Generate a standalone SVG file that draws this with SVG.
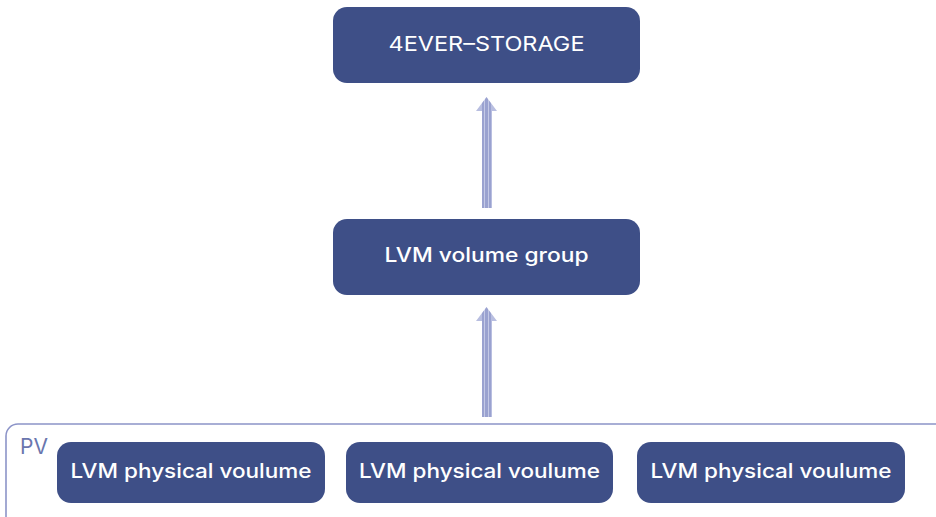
<svg xmlns="http://www.w3.org/2000/svg" width="936" height="517" viewBox="0 0 936 517">
<defs>
<style>
.box{fill:#3e4f87;}
.t{fill:#ffffff;font-family:Inter,"Liberation Sans",Arial,sans-serif;font-size:20px;font-weight:500;text-anchor:middle;}
.tr{font-weight:400;}
.pv{fill:#6a76ae;font-family:Inter,"Liberation Sans",Arial,sans-serif;font-size:21px;font-weight:400;}
</style>
<linearGradient id="stripe" x1="476" y1="0" x2="497" y2="0" gradientUnits="userSpaceOnUse">
<stop offset="0" stop-color="#b8bee0"/>
<stop offset="0.29" stop-color="#b8bee0"/>
<stop offset="0.29" stop-color="#9aa2d0"/>
<stop offset="0.36" stop-color="#9aa2d0"/>
<stop offset="0.36" stop-color="#c4c9e6"/>
<stop offset="0.45" stop-color="#c4c9e6"/>
<stop offset="0.45" stop-color="#9aa2d0"/>
<stop offset="0.55" stop-color="#9aa2d0"/>
<stop offset="0.55" stop-color="#c4c9e6"/>
<stop offset="0.64" stop-color="#c4c9e6"/>
<stop offset="0.64" stop-color="#9aa2d0"/>
<stop offset="0.71" stop-color="#9aa2d0"/>
<stop offset="0.71" stop-color="#b8bee0"/>
<stop offset="1" stop-color="#b8bee0"/>
</linearGradient>
</defs>
<rect width="936" height="517" fill="#ffffff"/>
<g id="pv-container">
<rect x="6" y="424" width="950" height="120" rx="12" fill="none" stroke="#8c94c8" stroke-width="1.6"/>
<text class="pv" x="20" y="454">PV</text>
</g>
<g id="connectors">
<path d="M482 208 V111 H476 L486.5 97 L497 111 H492 V208 Z" fill="url(#stripe)"/>
<path d="M482 417 V321 H476 L486.5 307 L497 321 H492 V417 Z" fill="url(#stripe)"/>
</g>
<g id="storage">
<rect class="box" x="333" y="7" width="307" height="76" rx="14"/>
<text class="t tr" x="486.5" y="51" textLength="196" lengthAdjust="spacingAndGlyphs">4EVER–STORAGE</text>
</g>
<g id="vg">
<rect class="box" x="333" y="219" width="307" height="76" rx="14"/>
<text class="t" x="486.5" y="262" textLength="204" lengthAdjust="spacingAndGlyphs">LVM volume group</text>
</g>
<g id="pv1">
<rect class="box" x="57" y="442" width="268" height="61" rx="14"/>
<text class="t" x="191" y="478" textLength="241" lengthAdjust="spacingAndGlyphs">LVM physical voulume</text>
</g>
<g id="pv2">
<rect class="box" x="346" y="442" width="267" height="61" rx="14"/>
<text class="t" x="479.5" y="478" textLength="241" lengthAdjust="spacingAndGlyphs">LVM physical voulume</text>
</g>
<g id="pv3">
<rect class="box" x="637" y="442" width="268" height="61" rx="14"/>
<text class="t" x="771" y="478" textLength="241" lengthAdjust="spacingAndGlyphs">LVM physical voulume</text>
</g>
</svg>
